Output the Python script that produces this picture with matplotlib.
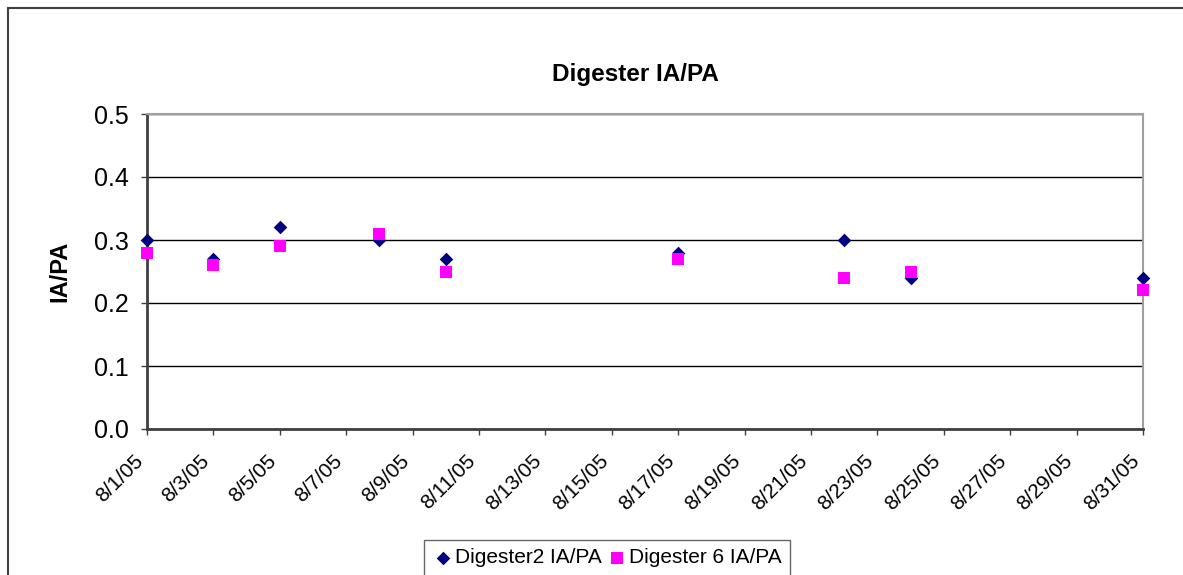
import matplotlib
matplotlib.use("Agg")
import matplotlib.pyplot as plt
import matplotlib.dates as mdates
from matplotlib.lines import Line2D
import datetime as dt

plt.rcParams['font.family'] = ['Liberation Sans', 'DejaVu Sans']

dates = ["2005-08-01", "2005-08-03", "2005-08-05", "2005-08-08", "2005-08-10",
         "2005-08-17", "2005-08-22", "2005-08-24", "2005-08-31"]
digester2 = [0.30, 0.27, 0.32, 0.30, 0.27, 0.28, 0.30, 0.24, 0.24]
digester6 = [0.28, 0.26, 0.29, 0.31, 0.25, 0.27, 0.24, 0.25, 0.22]
yticks = [0.0, 0.1, 0.2, 0.3, 0.4, 0.5]

x = [dt.datetime.strptime(d, "%Y-%m-%d") for d in dates]

fig = plt.figure(figsize=(11.83, 5.75), dpi=100)
ax = fig.add_axes([147/1183, 146/575, (1143-147)/1183, (429-114)/575])

ax.scatter(x, digester2, marker='D', s=48, color='#000080', zorder=3,
           label='Digester2 IA/PA', linewidths=0, clip_on=False)
ax.scatter(x, digester6, marker='s', s=64, color='#FF00FF', zorder=3,
           label='Digester 6 IA/PA', linewidths=0, clip_on=False)

ax.set_xlim(dt.datetime(2005, 8, 1), dt.datetime(2005, 8, 31))
ax.set_ylim(0, 0.5)
ax.set_yticks(yticks)
ax.set_yticklabels([f"{v:.1f}" for v in yticks], fontsize=18)
ax.xaxis.set_major_locator(mdates.DayLocator(interval=2))
ax.xaxis.set_major_formatter(mdates.DateFormatter("%-m/%-d/%y"))
ax.tick_params(axis='x', labelrotation=45, labelsize=15)
for lab in ax.get_xticklabels():
    lab.set_ha('right')
    lab.set_va('top')

ax.yaxis.grid(True, color='black', linewidth=1)
ax.set_axisbelow(True)
ax.tick_params(axis='both', direction='out', length=4, width=1, color='#404040')
ax.tick_params(axis='x', pad=12)
ax.tick_params(axis='y', pad=9)
for s in ['left', 'bottom']:
    ax.spines[s].set_color('#404040')
    ax.spines[s].set_linewidth(2)
for s in ['top', 'right']:
    ax.spines[s].set_color('#A0A0A0')
    ax.spines[s].set_linewidth(1.5)

ax.set_ylabel("IA/PA", fontsize=17, fontweight='bold', labelpad=16)
fig.text(635/1183, 1 - 75/575, "Digester IA/PA", fontsize=17.5, fontweight='bold',
         ha='center', va='center')

leg = fig.legend(loc='upper center', bbox_to_anchor=(607/1183, 1 - 540/575),
                 ncol=2, fontsize=15, frameon=True, fancybox=False,
                 edgecolor='#404040', handletextpad=0.1, columnspacing=0.2,
                 handlelength=1.0, borderpad=0.4, borderaxespad=0, scatterpoints=1)
leg.get_frame().set_linewidth(1)

fig.add_artist(Line2D([8/1183, 8/1183], [0, 1 - 8/575], color='#404040', lw=1.5,
                      transform=fig.transFigure))
fig.add_artist(Line2D([8/1183, 1], [1 - 8/575, 1 - 8/575], color='#404040', lw=1.5,
                      transform=fig.transFigure))

fig.savefig("out.png", dpi=100)
